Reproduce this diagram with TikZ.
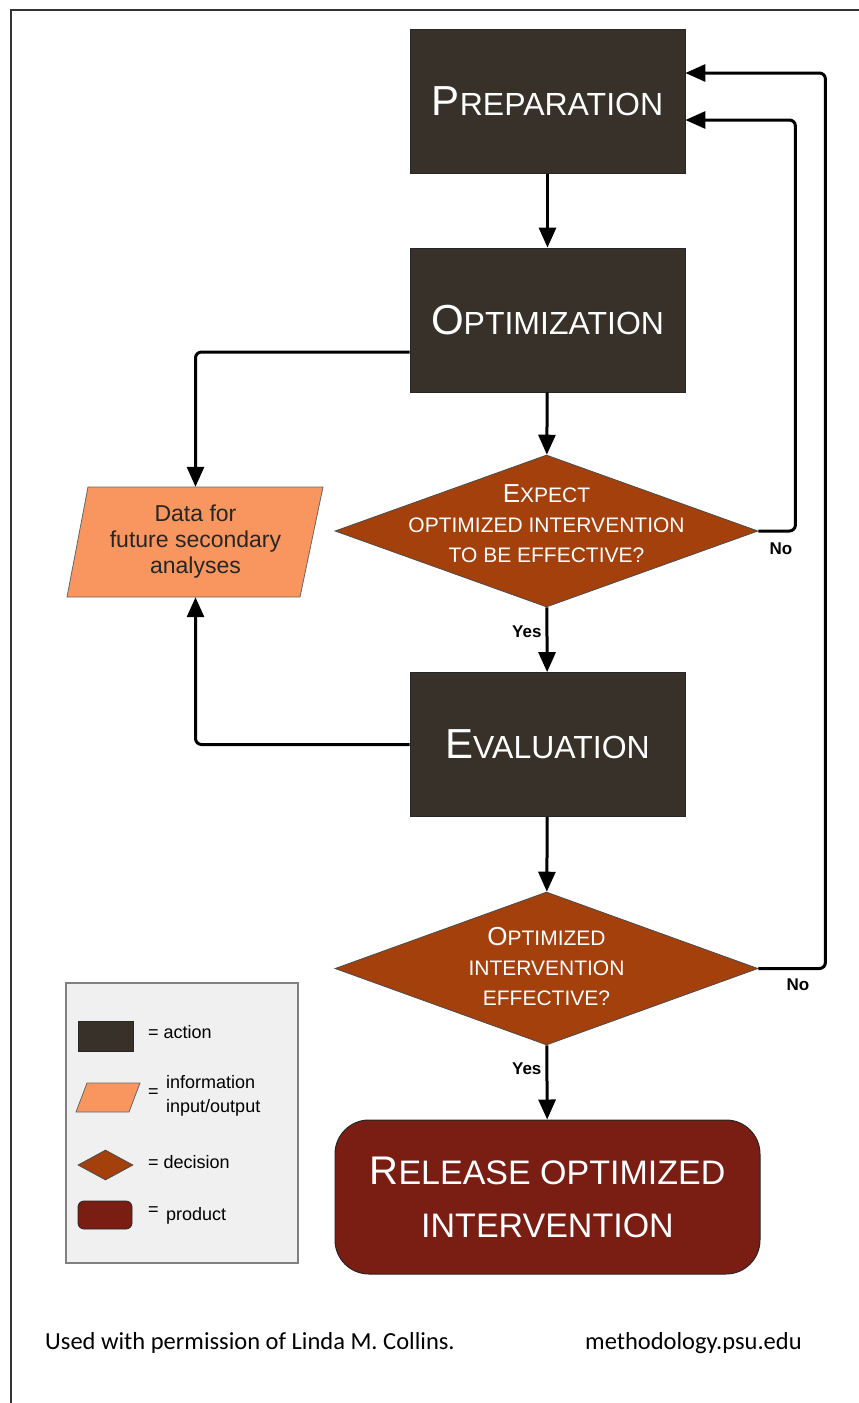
\documentclass[tikz,border=0pt]{standalone}
\usepackage{fontspec}
\setmainfont{Liberation Sans}
\newfontfamily\carlito{Carlito}
\usetikzlibrary{shapes.geometric,arrows.meta,calc}
\definecolor{actc}{HTML}{38312A}
\definecolor{decc}{HTML}{A3400C}
\definecolor{infoc}{HTML}{F9965F}
\definecolor{prodc}{HTML}{7A1E14}
\definecolor{legbg}{HTML}{F0F0F0}
\newcommand\fs[2]{\fontsize{#1}{#2}\selectfont}
\tikzset{
  actbox/.style={rectangle, fill=actc, draw=black!85, line width=0.8pt, minimum width=275pt, minimum height=144pt, inner sep=0pt, text=white},
  decbox/.style={diamond, fill=decc, draw=black!70, line width=0.8pt, inner sep=0pt, minimum width=423pt, minimum height=152pt},
  dectext/.style={text=white, align=center, font=\fs{21}{30}, inner sep=0pt},
  prodbox/.style={rectangle, rounded corners=34pt, fill=prodc, draw=black!85, line width=1pt, minimum width=425pt, minimum height=154pt, text=white, align=center, font=\fs{34}{53}},
  arr/.style={line width=3pt, -{Triangle[length=20pt,width=17pt]}, rounded corners=6pt},
  yn/.style={font=\bfseries\fs{17}{20}, inner sep=0pt},
  legtxt/.style={font=\fs{18}{24}, anchor=west, inner sep=0pt, align=left},
}
\begin{document}
\begin{tikzpicture}[x=1pt,y=-1pt]
\useasboundingbox (0,0) rectangle (859,1403);
\fill[white] (0,0) rectangle (859,1403);
% frame
\draw[line width=2pt, black!80] (11,1403) -- (11,10) -- (859,10);

% main action boxes
\node[actbox] (prep) at (547.5,101.5) {{\fs{42}{50}P}{\fs{32}{50}REPARATION}};
\node[actbox] (opt) at (547.5,320) {{\fs{42}{50}O}{\fs{32}{50}PTIMIZATION}};
\node[actbox] (eval) at (547.5,744.5) {{\fs{42}{50}E}{\fs{32}{50}VALUATION}};

% decisions
\node[decbox] (d1) at (546.5,531) {};
\node[dectext] (d1t) at (546.5,524) {{\fs{26}{30}E}XPECT\\OPTIMIZED INTERVENTION\\TO BE EFFECTIVE?};
\node[decbox, minimum height=153pt] (d2) at (546.5,968.5) {};
\node[dectext] (d2t) at (546.5,967) {{\fs{26}{30}O}PTIMIZED\\INTERVENTION\\EFFECTIVE?};

% product
\node[prodbox] (rel) at (547.5,1197) {{\fs{40}{53}R}ELEASE OPTIMIZED\\INTERVENTION};

% data parallelogram
\filldraw[fill=infoc, draw=black!60, line width=0.8pt] (88,487) -- (323,487) -- (300,597) -- (67,597) -- cycle;
\node[minimum height=110pt, minimum width=10pt, inner sep=0pt, align=center, font=\fs{23}{26}, text=black!85] (data) at (195.5,542) {Data for\\future secondary\\analyses};

% connectors
\draw[arr] (prep) -- (opt);
\draw[arr] (opt) -- (d1);
\draw[arr] (d1) -- node[yn, pos=0.38, left=4pt] (yes1) {Yes} (eval);
\draw[arr] (eval) -- (d2);
\draw[arr] (d2) -- node[yn, pos=0.31, left=4pt] (yes2) {Yes} (rel);
\draw[arr] ([yshift=-32pt]opt.west) -| (data.north);
\draw[arr] (eval.west) -| (data.south);
\draw[arr] (d1.east) -- ++(37,0) |- ([yshift=-18.5pt]prep.east);
\draw[arr] (d2.east) -- ++(67,0) |- ([yshift=28.5pt]prep.east);
\node[yn] (no1) at (781,549) {No};
\node[yn] (no2) at (798,985) {No};

% legend
\node[rectangle, fill=legbg, draw=black!50, line width=1.5pt, minimum width=232pt, minimum height=280pt, inner sep=0pt] (leg) at (182,1123) {};
\node[rectangle, fill=actc, draw=black!85, line width=0.8pt, minimum width=55pt, minimum height=30pt, inner sep=0pt] (lact) at (105.5,1036) {};
\filldraw[fill=infoc, draw=black!60, line width=0.8pt] (87,1083) -- (140,1083) -- (129,1112) -- (76,1112) -- cycle;
\node[diamond, fill=decc, draw=black!70, line width=0.8pt, minimum width=55pt, minimum height=30pt, inner sep=0pt] (ldec) at (105.5,1165) {};
\node[rectangle, rounded corners=6pt, fill=prodc, draw=black!85, line width=0.8pt, minimum width=54pt, minimum height=28pt, inner sep=0pt] (lprod) at (105,1215) {};
\node[legtxt] (t1) at (148,1032) {= action};
\node[legtxt] (t2e) at (148,1093) {=};
\node[legtxt] (t2) at (166,1096) {information\\input/output};
\node[legtxt] (t3) at (148,1162) {= decision};
\node[legtxt] (t4e) at (148,1211) {=};
\node[legtxt] (t4) at (166,1216) {product};

% footer
\node[anchor=base west, inner sep=0pt, font=\carlito\fs{24.5}{28}] (f1) at (45,1349) {Used with permission of Linda M. Collins.};
\node[anchor=base west, inner sep=0pt, font=\carlito\fs{24.5}{28}] (f2) at (585,1349) {methodology.psu.edu};
\end{tikzpicture}
\end{document}
